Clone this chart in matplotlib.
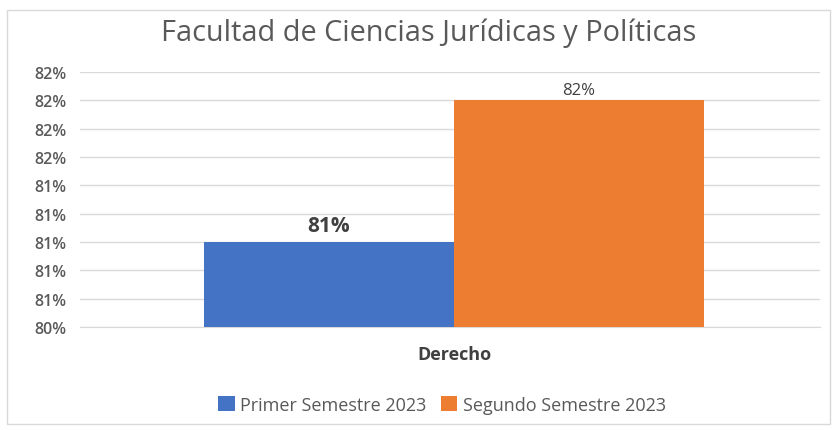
import matplotlib.pyplot as plt
from matplotlib.patches import Rectangle

plt.rcParams['font.family'] = ['Open Sans', 'DejaVu Sans']

category = 'Derecho'
series = ['Primer Semestre 2023', 'Segundo Semestre 2023']
values = [0.81, 0.82]
colors = ['#4472C4', '#ED7D31']
yticks = [0.804, 0.806, 0.808, 0.810, 0.812, 0.814, 0.816, 0.818, 0.820, 0.822]

fig = plt.figure(figsize=(8.38, 4.31), dpi=100)
fig.patches.append(Rectangle((7 / 838, 6 / 431), 823 / 838, 414 / 431,
                             transform=fig.transFigure, fill=False,
                             edgecolor='#D9D9D9', linewidth=1))

ax = fig.add_axes([80 / 838, 103 / 431, 740 / 838, 255 / 431])
width = 0.338
offsets = [-width / 2, width / 2]
for name, v, c, off in zip(series, values, colors, offsets):
    ax.bar(off, v - yticks[0], width, bottom=yticks[0], color=c, label=name, zorder=3)

shift = 4 / 740
ax.set_xlim(-0.5 - shift, 0.5 - shift)
ax.set_ylim(yticks[0], yticks[-1])
ax.set_yticks(yticks)
ax.set_yticklabels([f'{round(t * 100 + 1e-9):.0f}%' for t in yticks],
                   fontsize=11.5, color='#595959', fontweight='semibold')
ax.set_xticks([0])
ax.set_xticklabels([category], fontsize=13, fontweight='bold', color='#404040')
ax.tick_params(axis='both', length=0)
ax.tick_params(axis='x', pad=13)
ax.tick_params(axis='y', pad=10)
ax.yaxis.grid(True, color='#D9D9D9', linewidth=1, zorder=0)
for s in ax.spines.values():
    s.set_visible(False)
ax.spines['bottom'].set_visible(True)
ax.spines['bottom'].set_color('#D9D9D9')

ax.text(offsets[0], values[0] + 0.0004, '81%', ha='center', va='bottom',
        fontsize=15, fontweight='bold', color='#404040')
ax.text(offsets[1], values[1] + 0.0002, '82%', ha='center', va='bottom',
        fontsize=12, color='#404040')

fig.text(429 / 838, 1 - 33 / 431, 'Facultad de Ciencias Jurídicas y Políticas',
         ha='center', va='center', fontsize=20.8, color='#595959')

fig.legend(loc='center', bbox_to_anchor=(442 / 838, 1 - 406 / 431), ncol=2, frameon=False,
           fontsize=13, handlelength=0.9, handleheight=0.9, handletextpad=0.3,
           columnspacing=0.8, labelcolor='#595959')

fig.savefig('out.png', dpi=100)
